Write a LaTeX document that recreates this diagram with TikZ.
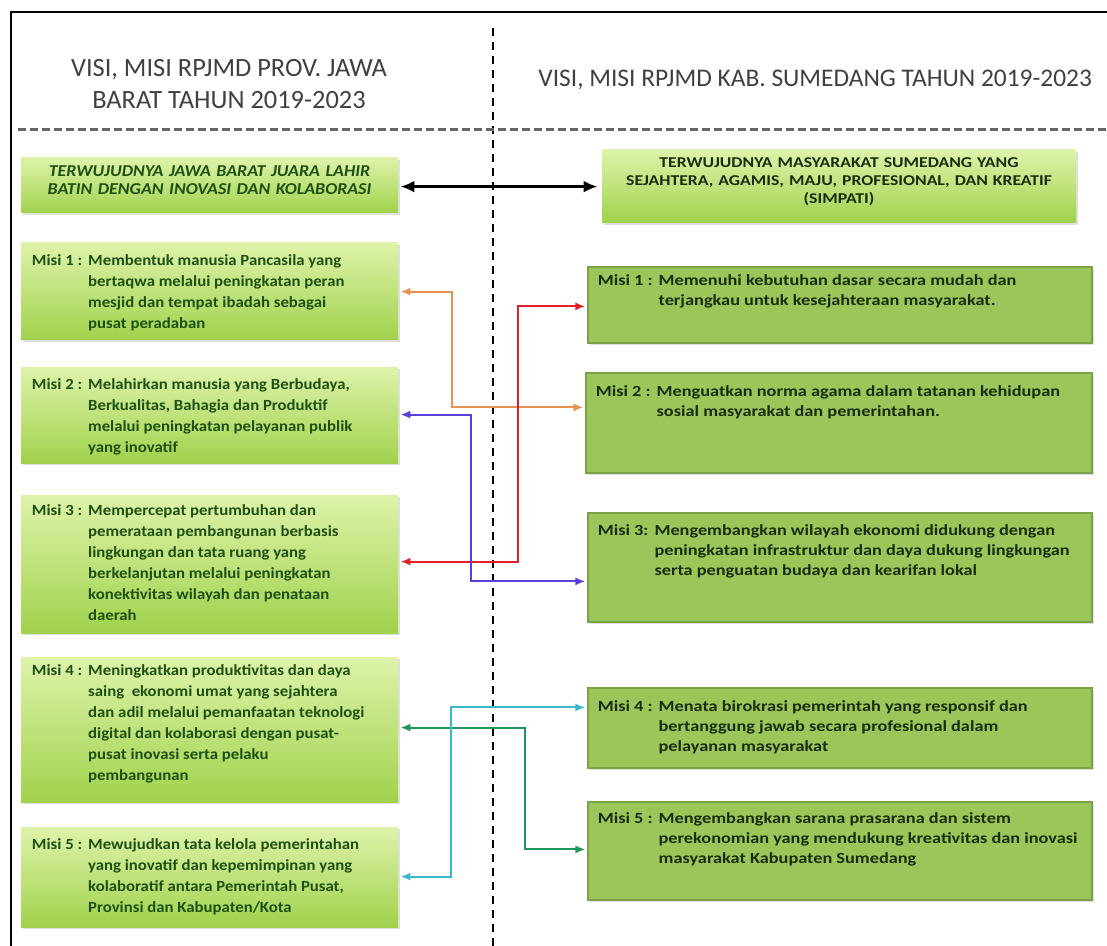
\documentclass[tikz,border=0pt]{standalone}
\usepackage{fontspec}
\setmainfont{Carlito}
\newfontfamily\lwide[FakeStretch=1.08]{Carlito}
\newfontfamily\rwide[FakeStretch=1.18]{Carlito}
\usetikzlibrary{positioning,fit,arrows.meta,shadows}
\definecolor{limetop}{RGB}{222,243,170}
\definecolor{limebot}{RGB}{160,210,76}
\definecolor{misigreen}{RGB}{155,199,90}
\definecolor{misiedge}{RGB}{122,162,72}
\definecolor{txtgreen}{RGB}{30,80,20}
\definecolor{txtdark}{RGB}{25,45,12}
\definecolor{headgray}{RGB}{64,64,64}
\definecolor{arrorange}{RGB}{232,146,82}
\definecolor{arrred}{RGB}{226,32,42}
\definecolor{arrblue}{RGB}{92,62,222}
\definecolor{arrcyan}{RGB}{62,182,208}
\definecolor{arrgreen}{RGB}{32,150,88}

\newcommand{\misi}[2]{\begin{tabular}[t]{@{}l@{\hspace{3pt}}l@{}}#1 & \begin{tabular}[t]{@{}l@{}}#2\end{tabular}\end{tabular}}

\begin{document}
\begin{tikzpicture}[x=0.5pt, y=-0.5pt,
  head/.style={font=\fontsize{13.2}{16}\selectfont, text=headgray, align=center, inner sep=0pt},
  lbox/.style={top color=limetop, bottom color=limebot, draw=none, inner sep=0pt,
    drop shadow={shadow xshift=1pt, shadow yshift=-1pt, opacity=0.25}},
  rbox/.style={fill=misigreen, draw=misiedge, line width=0.6pt, inner sep=0pt,
    drop shadow={shadow xshift=1pt, shadow yshift=-1pt, opacity=0.25}},
  ltxt/.style={anchor=north west, inner sep=0pt, text=txtgreen, align=left,
    font=\lwide\fontsize{7.75}{10.5}\selectfont\bfseries},
  rtxt/.style={ltxt, text=txtdark, font=\rwide\fontsize{7.75}{10.2}\selectfont\bfseries},
  link/.style={line width=1pt, {Latex[length=5pt,width=4pt]}-{Latex[length=5pt,width=4pt]}},
  vlink/.style={line width=1.5pt, {Latex[length=7pt,width=6pt]}-{Latex[length=7pt,width=6pt]}}]

  \useasboundingbox (0,0) rectangle (1107,946);

  % Frame and dividers
  \draw[line width=1pt] (11,946) -- (11,12) -- (1107,12);
  \draw[line width=1pt, dash pattern=on 4pt off 3pt] (493,28) -- (493,946);
  \draw[headgray!80, line width=1.5pt, dash pattern=on 4pt off 2pt] (18,130) -- (1107,130);

  % Headers
  \node[head] (hleft) at (229,84) {VISI, MISI RPJMD PROV. JAWA\\BARAT TAHUN 2019-2023};
  \node[head, anchor=west, font=\fontsize{12.7}{16}\selectfont] (hright) at (538,80) {VISI, MISI RPJMD KAB. SUMEDANG TAHUN 2019-2023};

  % Visi boxes
  \node[lbox, fit={(21,158) (398,213)}, text=txtgreen, align=center,
    font=\lwide\fontsize{8.3}{9}\selectfont\bfseries\itshape] (lv)
    {TERWUJUDNYA JAWA BARAT JUARA LAHIR\\BATIN DENGAN INOVASI DAN KOLABORASI};
  \node[lbox, fit={(602,150) (1076,223)}, text=txtdark, align=center,
    font=\rwide\fontsize{7.5}{9}\selectfont\bfseries] (rv)
    {TERWUJUDNYA MASYARAKAT SUMEDANG YANG\\SEJAHTERA, AGAMIS, MAJU, PROFESIONAL, DAN KREATIF\\(SIMPATI)};

  % Misi RPJMD Provinsi
  \node[lbox, fit={(21,243) (398,340)}] (l1) {};
  \node[lbox, fit={(21,367) (398,463)}] (l2) {};
  \node[lbox, fit={(21,495) (398,633)}] (l3) {};
  \node[lbox, fit={(21,657) (398,802)}] (l4) {};
  \node[lbox, fit={(21,827) (398,927)}] (l5) {};

  \node[ltxt] (l1t) at ([shift={(11,8)}]l1.north west) {\misi{Misi 1 :}{Membentuk manusia Pancasila yang\\bertaqwa melalui peningkatan peran\\mesjid dan tempat ibadah sebagai\\pusat peradaban}};
  \node[ltxt] (l2t) at ([shift={(11,8)}]l2.north west) {\misi{Misi 2 :}{Melahirkan manusia yang Berbudaya,\\Berkualitas, Bahagia dan Produktif\\melalui peningkatan pelayanan publik\\yang inovatif}};
  \node[ltxt] (l3t) at ([shift={(11,6)}]l3.north west) {\misi{Misi 3 :}{Mempercepat pertumbuhan dan\\pemerataan pembangunan berbasis\\lingkungan dan tata ruang yang\\berkelanjutan melalui peningkatan\\konektivitas wilayah dan penataan\\daerah}};
  \node[ltxt] (l4t) at ([shift={(11,4)}]l4.north west) {\misi{Misi 4 :}{Meningkatkan produktivitas dan daya\\saing\ \ ekonomi umat yang sejahtera\\dan adil melalui pemanfaatan teknologi\\digital dan kolaborasi dengan pusat-\\pusat inovasi serta pelaku\\pembangunan}};
  \node[ltxt] (l5t) at ([shift={(11,8)}]l5.north west) {\misi{Misi 5 :}{Mewujudkan tata kelola pemerintahan\\yang inovatif dan kepemimpinan yang\\kolaboratif antara Pemerintah Pusat,\\Provinsi dan Kabupaten/Kota}};

  % Misi RPJMD Kabupaten
  \node[rbox, fit={(588,267) (1092,343)}] (r1) {};
  \node[rbox, fit={(586,373) (1092,473)}] (r2) {};
  \node[rbox, fit={(588,513) (1092,622)}] (r3) {};
  \node[rbox, fit={(588,688) (1092,768)}] (r4) {};
  \node[rbox, fit={(588,802) (1092,900)}] (r5) {};

  \node[rtxt] (r1t) at ([shift={(10,4)}]r1.north west) {\misi{Misi 1 :}{Memenuhi kebutuhan dasar secara mudah dan\\terjangkau untuk kesejahteraan masyarakat.}};
  \node[rtxt] (r2t) at ([shift={(10,9)}]r2.north west) {\misi{Misi 2 :}{Menguatkan norma agama dalam tatanan kehidupan\\sosial masyarakat dan pemerintahan.}};
  \node[rtxt] (r3t) at ([shift={(10,8)}]r3.north west) {\misi{Misi 3:}{Mengembangkan wilayah ekonomi didukung dengan\\peningkatan infrastruktur dan daya dukung lingkungan\\serta penguatan budaya dan kearifan lokal}};
  \node[rtxt] (r4t) at ([shift={(10,9)}]r4.north west) {\misi{Misi 4 :}{Menata birokrasi pemerintah yang responsif dan\\bertanggung jawab secara profesional dalam\\pelayanan masyarakat}};
  \node[rtxt] (r5t) at ([shift={(10,7)}]r5.north west) {\misi{Misi 5 :}{Mengembangkan sarana prasarana dan sistem\\perekonomian yang mendukung kreativitas dan inovasi\\masyarakat Kabupaten Sumedang}};

  % Links
  \draw[vlink] ([shift={(2,29)}]lv.north east) -- ([shift={(-4,37)}]rv.north west);
  \draw[link, arrorange] ([shift={(2,49)}]l1.north east) -- ++(52,0) |- ([shift={(-2,35)}]r2.north west);
  \draw[link, arrred] ([shift={(2,67)}]l3.north east) -- ++(118,0) |- ([shift={(-2,40)}]r1.north west);
  \draw[link, arrblue] ([shift={(2,48)}]l2.north east) -- ++(71,0) |- ([shift={(-2,69)}]r3.north west);
  \draw[link, arrgreen] ([shift={(2,71)}]l4.north east) -- ++(125,0) |- ([shift={(-2,48)}]r5.north west);
  \draw[link, arrcyan] ([shift={(2,50)}]l5.north east) -- ++(51,0) |- ([shift={(-2,20)}]r4.north west);

\end{tikzpicture}
\end{document}
